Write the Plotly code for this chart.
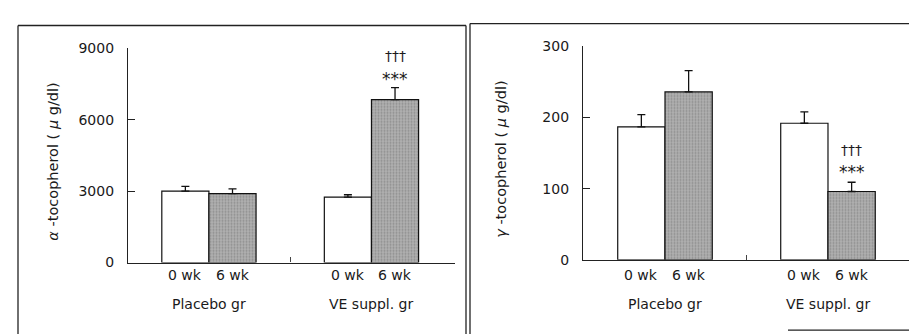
import plotly.graph_objects as go

# ---- data ----
groups = ["Placebo gr", "VE suppl. gr"]
time_labels = ["0 wk", "6 wk"]
alpha_0wk = [3000, 2750]
alpha_0wk_err = [200, 100]
alpha_6wk = [2900, 6850]
alpha_6wk_err = [200, 500]
gamma_0wk = [187, 192]
gamma_0wk_err = [17, 16]
gamma_6wk = [236, 96]
gamma_6wk_err = [30, 13]
alpha_ticks = [0, 3000, 6000, 9000]
gamma_ticks = [0, 100, 200, 300]

W, H = 917, 334
FONT = "DejaVu Sans, sans-serif"
TXT = "#1a1a1a"
BW = 0.29
gx = [0, 1]

fig = go.Figure()

def add_panel(xa, ya, v0, e0, v6, e6):
    fig.add_trace(go.Bar(x=gx, y=v0, width=BW, offset=-BW,
                         marker=dict(color="white", line=dict(color="#111", width=1.2)),
                         error_y=dict(type="data", array=e0, arrayminus=[0, 0], symmetric=False,
                                      color="#111", thickness=1.3, width=4),
                         xaxis=xa, yaxis=ya, showlegend=False))
    fig.add_trace(go.Bar(x=gx, y=v6, width=BW, offset=0,
                         marker=dict(color="#b0b0b0", line=dict(color="#111", width=1.2),
                                     pattern=dict(shape=".", fgcolor="#6a6a6a", size=3, solidity=0.35)),
                         error_y=dict(type="data", array=e6, arrayminus=[0, 0], symmetric=False,
                                      color="#111", thickness=1.3, width=4),
                         xaxis=xa, yaxis=ya, showlegend=False))

add_panel("x", "y", alpha_0wk, alpha_0wk_err, alpha_6wk, alpha_6wk_err)
add_panel("x2", "y2", gamma_0wk, gamma_0wk_err, gamma_6wk, gamma_6wk_err)

xcommon = dict(showgrid=False, zeroline=False, showline=True, linecolor="#222", linewidth=1.3,
               tickmode="array", tickvals=[0.5], ticktext=[""], ticks="inside", ticklen=5,
               tickcolor="#444", tickwidth=1)
ycommon = dict(showgrid=False, zeroline=False, showline=True, linecolor="#222", linewidth=1.3,
               ticks="inside", ticklen=7, tickcolor="#222", tickwidth=1.2,
               tickfont=dict(family=FONT, size=14, color=TXT), ticklabelstandoff=10)

fig.update_layout(
    width=W, height=H, margin=dict(l=0, r=0, t=0, b=0),
    paper_bgcolor="white", plot_bgcolor="white", barmode="overlay",
    font=dict(family=FONT, color=TXT),
    xaxis=dict(domain=[120 / W, 447 / W], range=[-0.498, 1.514], anchor="y", **xcommon),
    yaxis=dict(domain=[(H - 259) / H, (H - 34) / H], range=[0, 9000], anchor="x",
               tickvals=alpha_ticks, **ycommon),
    xaxis2=dict(domain=[575 / W, 901 / W], range=[-0.503, 1.497], anchor="y2", **xcommon),
    yaxis2=dict(domain=[(H - 256) / H, (H - 32) / H], range=[0, 300], anchor="x2",
                tickvals=gamma_ticks, **ycommon),
)

ann = []
for xr in ["x", "x2"]:
    for i, g in enumerate(groups):
        ann.append(dict(x=gx[i], y=(H - 313) / H, xref=xr, yref="paper", text=g,
                        showarrow=False, font=dict(size=14, family=FONT, color=TXT)))
        for j, t in enumerate(time_labels):
            ann.append(dict(x=gx[i] + (j - 0.5) * BW, y=(H - 283) / H, xref=xr, yref="paper",
                            text=t, showarrow=False, font=dict(size=14, family=FONT, color=TXT)))

# y-axis titles
ann.append(dict(x=35 / W, y=(H - 153) / H, xref="paper", yref="paper",
                text="<i>α</i> -tocopherol ( <i>μ</i> g/dl)", textangle=-90, showarrow=False,
                font=dict(size=14.5, family=FONT, color=TXT)))
ann.append(dict(x=493 / W, y=(H - 150) / H, xref="paper", yref="paper",
                text="<i>γ</i> -tocopherol ( <i>μ</i> g/dl)", textangle=-90, showarrow=False,
                font=dict(size=14.5, family=FONT, color=TXT)))

# significance marks
dag = dict(size=14, family=FONT, color=TXT)
ast = dict(size=17, family=FONT, color=TXT)
ann += [
    dict(x=1 + BW / 2, y=8680, xref="x", yref="y", text="†††", showarrow=False, font=dag),
    dict(x=1 + BW / 2, y=7720, xref="x", yref="y", text="***", showarrow=False, font=ast),
    dict(x=1 + BW / 2, y=155, xref="x2", yref="y2", text="†††", showarrow=False, font=dag),
    dict(x=1 + BW / 2, y=123, xref="x2", yref="y2", text="***", showarrow=False, font=ast),
]
fig.update_layout(annotations=ann)

# panel frames
def px(x):
    return x / W

def py(y):
    return (H - y) / H

frame = dict(color="#222", width=1.3)
shapes = [
    dict(type="line", xref="paper", yref="paper", x0=px(10), x1=px(10), y0=py(10), y1=py(334), line=frame),
    dict(type="line", xref="paper", yref="paper", x0=px(10), x1=px(458), y0=py(10), y1=py(10), line=frame),
    dict(type="line", xref="paper", yref="paper", x0=px(458), x1=px(458), y0=py(10), y1=py(334), line=frame),
    dict(type="line", xref="paper", yref="paper", x0=px(462), x1=px(462), y0=py(8), y1=py(334), line=frame),
    dict(type="line", xref="paper", yref="paper", x0=px(462), x1=px(913), y0=py(8), y1=py(8), line=frame),
    dict(type="line", xref="paper", yref="paper", x0=px(913), x1=px(913), y0=py(8), y1=py(334), line=frame),
    dict(type="line", xref="paper", yref="paper", x0=px(780), x1=px(913), y0=py(330), y1=py(330), line=frame),
]
fig.update_layout(shapes=shapes)

fig.write_html("out.html")
